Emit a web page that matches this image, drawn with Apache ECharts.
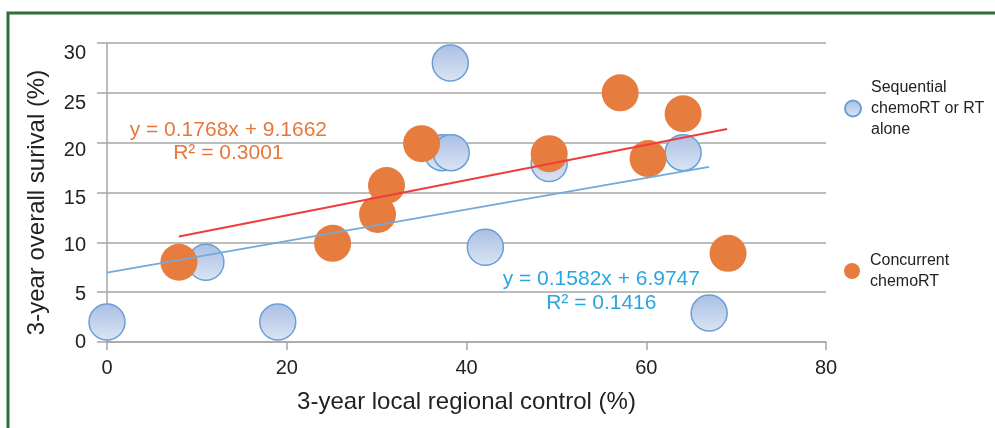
<!DOCTYPE html>
<html><head><meta charset="utf-8">
<script src="https://cdn.jsdelivr.net/npm/echarts@6/dist/echarts.min.js"></script>
<style>html,body{margin:0;padding:0;background:#fff}#c{width:995px;height:428px}</style>
</head><body><div id="c"></div>
<script>
// ---- data ----
const xTicks = [0, 20, 40, 60, 80];
const yTicks = [0, 5, 10, 15, 20, 25, 30];
const seqName = 'Sequential\nchemoRT or RT\nalone';
const conName = 'Concurrent\nchemoRT';
const seqX = [0, 11, 19, 38.2, 37.3, 38.3, 42.1, 49.2, 64.1, 67.0];
const seqY = [2, 8, 2, 28, 19, 19, 9.5, 17.9, 19, 2.9];
const conX = [8, 25.1, 30.1, 31.1, 35, 49.2, 57.1, 60.2, 64.1, 69.1];
const conY = [8, 9.9, 12.8, 15.7, 19.9, 18.9, 25, 18.4, 22.9, 8.9];
const seqTrendX = [0, 67];
const seqTrendY = [6.97, 17.57];
const conTrendX = [8, 69];
const conTrendY = [10.58, 21.37];
const seqEq = ['y = 0.1582x + 6.9747', 'R² = 0.1416'];
const conEq = ['y = 0.1768x + 9.1662', 'R² = 0.3001'];
const seqEqAt = [55.0, 5.1];
const conEqAt = [13.5, 20.1];

const pairs = (xs, ys) => xs.map((x, i) => [x, ys[i]]);
const FONT = '"Liberation Sans", Arial, sans-serif';
const chart = echarts.init(document.getElementById('c'), null, {renderer: 'canvas'});

const blueFill = new echarts.graphic.LinearGradient(0, 0, 0, 1, [
  {offset: 0, color: '#a9bfe3'}, {offset: 1, color: '#dbe5f4'}
]);

// small downward label shifts as seen in the reference's y tick labels (styling only)
const yLabelShift = {0: 0, 5: 2, 10: 3, 15: 6, 20: 8, 25: 11, 30: 10};
const yRich = {};
Object.keys(yLabelShift).forEach(k => {
  yRich['t' + k] = {fontSize: 20, color: '#222', fontFamily: FONT, padding: [yLabelShift[k] * 2, 0, 0, 0]};
});

const option = {
  animation: false,
  backgroundColor: '#fff',
  textStyle: {fontFamily: FONT},
  grid: {left: 107, right: 169, top: 43, bottom: 86, containLabel: false},
  xAxis: {
    type: 'value', min: xTicks[0], max: xTicks[xTicks.length - 1], interval: 20,
    name: '3-year local regional control (%)', nameLocation: 'middle', nameGap: 48,
    nameTextStyle: {fontSize: 24, color: '#222', fontFamily: FONT},
    axisLine: {show: true, lineStyle: {color: '#a6a6a6', width: 1.5}},
    axisTick: {show: true, length: 8, lineStyle: {color: '#a6a6a6', width: 1.5}},
    axisLabel: {fontSize: 20, color: '#222', margin: 16, fontFamily: FONT},
    splitLine: {show: false}
  },
  yAxis: {
    type: 'value', min: yTicks[0], max: yTicks[yTicks.length - 1], interval: 5,
    name: '3-year overall surival (%)', nameLocation: 'middle', nameGap: 58,
    nameTextStyle: {fontSize: 24, color: '#222', fontFamily: FONT, padding: [0, 20, 0, 0]},
    axisLine: {show: true, lineStyle: {color: '#a6a6a6', width: 1.5}},
    axisTick: {show: true, length: 10, lineStyle: {color: '#a6a6a6', width: 1.5}},
    axisLabel: {fontSize: 20, color: '#222', margin: 21, fontFamily: FONT,
      formatter: v => '{t' + v + '|' + v + '}', rich: yRich},
    splitLine: {show: true, lineStyle: {color: '#a6a6a6', width: 1.5}}
  },
  legend: [
    {data: [seqName], orient: 'vertical', left: 839, top: 72, itemWidth: 26, itemHeight: 16,
     icon: 'circle', textStyle: {fontSize: 16, lineHeight: 21, color: '#222', fontFamily: FONT}},
    {data: [conName], orient: 'vertical', left: 839, top: 245, itemWidth: 26, itemHeight: 16,
     icon: 'circle', textStyle: {fontSize: 16, lineHeight: 21, color: '#222', fontFamily: FONT}}
  ],
  series: [
    {name: seqName, type: 'scatter', data: pairs(seqX, seqY), symbolSize: 36, z: 2,
     itemStyle: {color: blueFill, borderColor: '#6a9fd6', borderWidth: 1.5, opacity: 1}},
    {name: conName, type: 'scatter', data: pairs(conX, conY), symbolSize: 37, z: 3,
     itemStyle: {color: '#e67c3e', borderColor: '#e67c3e', borderWidth: 0, opacity: 1}},
    {name: 'seqTrend', type: 'line', data: pairs(seqTrendX, seqTrendY), symbol: 'none', z: 4,
     lineStyle: {color: '#75a9dc', width: 1.8}, silent: true},
    {name: 'conTrend', type: 'line', data: pairs(conTrendX, conTrendY), symbol: 'none', z: 5,
     lineStyle: {color: '#f03c3c', width: 2}, silent: true}
  ]
};
chart.setOption(option);

function eqGraphic(lines, at, color) {
  const p = chart.convertToPixel({gridIndex: 0}, at);
  return {
    type: 'text', x: p[0], y: p[1], z: 10,
    style: {text: lines.join('\n'), fill: color, font: '21px ' + FONT,
            align: 'center', verticalAlign: 'middle', lineHeight: 23.5}
  };
}
chart.setOption({
  graphic: [
    {type: 'rect', shape: {x: 8, y: 13, width: 1200, height: 600}, z: -1,
     style: {fill: null, stroke: '#2f6e3b', lineWidth: 3}},
    eqGraphic(conEq, conEqAt, '#e8773c'),
    eqGraphic(seqEq, seqEqAt, '#2aa6df')
  ]
});
</script></body></html>
